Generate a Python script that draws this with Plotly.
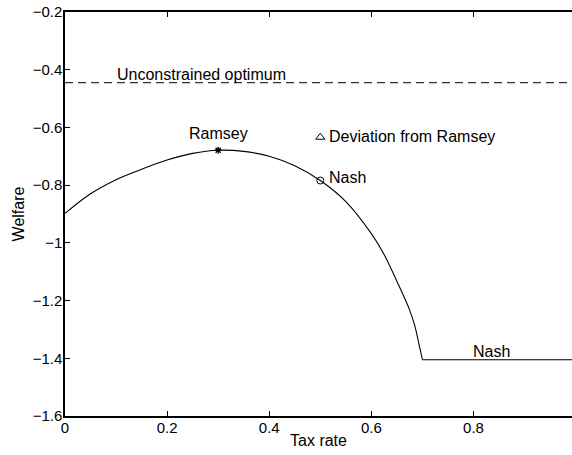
import plotly.graph_objects as go

# Welfare curve
tax_curve = [0.0, 0.05, 0.1, 0.15, 0.2, 0.25, 0.3, 0.35, 0.4, 0.45, 0.5, 0.55, 0.6, 0.625, 0.65, 0.675, 0.685, 0.695, 0.7]
welfare_curve = [-0.898, -0.830, -0.781, -0.745, -0.713, -0.690, -0.679, -0.683, -0.700, -0.733, -0.784, -0.857, -0.968, -1.040, -1.133, -1.233, -1.287, -1.365, -1.405]
tax_flat = [0.7, 1.0]
welfare_flat = [-1.405, -1.405]
unconstrained = -0.445
ramsey = (0.3, -0.679)
nash = (0.5, -0.784)
deviation = (0.5, -0.634)

x_ticks = [0, 0.2, 0.4, 0.6, 0.8]
x_tick_text = ["0", "0.2", "0.4", "0.6", "0.8"]
y_ticks = [-1.6, -1.4, -1.2, -1, -0.8, -0.6, -0.4, -0.2]
y_tick_text = ["\u22121.6", "\u22121.4", "\u22121.2", "\u22121", "\u22120.8", "\u22120.6", "\u22120.4", "\u22120.2"]

FONT = "Liberation Sans, Arial, sans-serif"

fig = go.Figure()
fig.add_trace(go.Scatter(x=tax_curve, y=welfare_curve, mode="lines", line=dict(color="black", width=1.1, shape="spline", smoothing=1.0), showlegend=False))
fig.add_trace(go.Scatter(x=tax_flat, y=welfare_flat, mode="lines", line=dict(color="black", width=1.1), showlegend=False))
fig.add_trace(go.Scatter(x=[0, 1.0], y=[unconstrained, unconstrained], mode="lines", line=dict(color="black", width=1, dash="8px,5px"), showlegend=False))
fig.add_trace(go.Scatter(x=[ramsey[0]], y=[ramsey[1]], mode="markers", marker=dict(symbol="asterisk-open", size=6, color="black", line=dict(width=1.3, color="black")), showlegend=False))
fig.add_trace(go.Scatter(x=[nash[0]], y=[nash[1]], mode="markers", marker=dict(symbol="circle-open", size=7, color="black", line=dict(width=1, color="black")), showlegend=False))
fig.add_trace(go.Scatter(x=[deviation[0]], y=[deviation[1]], mode="markers", marker=dict(symbol="triangle-up-open", size=8, color="black", line=dict(width=1, color="black")), showlegend=False))

ann_font = dict(family=FONT, size=16, color="black")
fig.add_annotation(x=0.098, y=-0.415, text="Unconstrained optimum", showarrow=False, xanchor="left", yanchor="middle", font=ann_font)
fig.add_annotation(x=0.3, y=-0.622, text="Ramsey", showarrow=False, xanchor="center", yanchor="middle", font=ann_font)
fig.add_annotation(x=0.514, y=-0.632, text="Deviation from Ramsey", showarrow=False, xanchor="left", yanchor="middle", font=ann_font)
fig.add_annotation(x=0.514, y=-0.775, text="Nash", showarrow=False, xanchor="left", yanchor="middle", font=ann_font)
fig.add_annotation(x=0.835, y=-1.377, text="Nash", showarrow=False, xanchor="center", yanchor="middle", font=ann_font)

fig.update_layout(
    width=572, height=455,
    margin=dict(l=65, r=0, t=12, b=39),
    paper_bgcolor="white", plot_bgcolor="white",
    font=dict(family=FONT, size=15, color="black"),
)
fig.update_xaxes(
    range=[0, 0.993], tickvals=x_ticks, ticktext=x_tick_text, automargin=False,
    showgrid=False, zeroline=False, showline=True, linecolor="black", linewidth=1.5,
    mirror="ticks", ticks="inside", ticklen=5, tickcolor="black", tickwidth=1,
    ticklabelstandoff=-3,
    title=dict(text="Tax rate", standoff=0, font=dict(family=FONT, size=16)),
    tickfont=dict(family=FONT, size=15),
)
fig.update_yaxes(
    range=[-1.6, -0.2], tickvals=y_ticks, ticktext=y_tick_text, automargin=False,
    showgrid=False, zeroline=False, showline=True, linecolor="black", linewidth=1.5,
    ticks="inside", ticklen=5, tickcolor="black", tickwidth=1,
    ticklabelstandoff=-2,
    title=dict(text="Welfare", standoff=4, font=dict(family=FONT, size=16)),
    tickfont=dict(family=FONT, size=15),
)

fig.write_html(
    "out.html",
    config={"displayModeBar": False},
    post_script="document.body.style.margin='0';document.body.style.overflow='hidden';",
)
